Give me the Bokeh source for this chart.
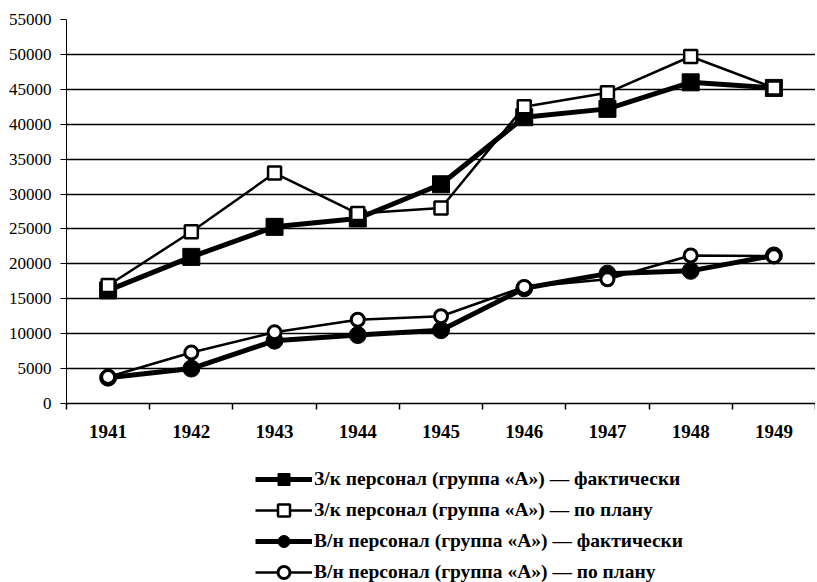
from bokeh.plotting import figure
from bokeh.models import FixedTicker, Legend, LegendItem, Range1d
from bokeh.layouts import column
from bokeh.embed import file_html
from bokeh.resources import INLINE

years = [1941, 1942, 1943, 1944, 1945, 1946, 1947, 1948, 1949]
zk_fact = [16200, 21000, 25300, 26500, 31400, 41000, 42200, 46000, 45200]
zk_plan = [16900, 24600, 33000, 27200, 28000, 42500, 44500, 49700, 45200]
vn_fact = [3700, 5000, 9000, 9800, 10500, 16500, 18600, 19000, 21200]
vn_plan = [3800, 7300, 10200, 12000, 12500, 16700, 17800, 21200, 21100]
y_ticks = list(range(0, 55001, 5000))
labels = [
    "З/к персонал (группа «А») — фактически",
    "З/к персонал (группа «А») — по плану",
    "В/н персонал (группа «А») — фактически",
    "В/н персонал (группа «А») — по плану",
]

FONT = "Liberation Serif"

# series styles: (values, marker, size, fill, line_width, marker_line_width)
series = [
    (zk_fact, "square", 17, "black", 5, 1),
    (zk_plan, "square", 13, "white", 2.5, 2.5),
    (vn_fact, "circle", 17, "black", 5, 1),
    (vn_plan, "circle", 13, "white", 2.5, 3),
]

p = figure(width=815, height=450, output_backend="svg", toolbar_location=None,
           x_range=Range1d(years[0] - 0.5, years[-1] + 0.5),
           y_range=Range1d(0, 55000),
           min_border_left=66, min_border_top=19, min_border_right=0,
           min_border_bottom=47)
p.outline_line_color = None
p.background_fill_color = "white"

p.xgrid.grid_line_color = None
p.ygrid.grid_line_color = "black"
p.ygrid.grid_line_width = 1.5
p.ygrid.ticker = FixedTicker(ticks=y_ticks)

p.yaxis.ticker = FixedTicker(ticks=y_ticks)
p.yaxis.axis_line_color = "black"
p.yaxis.axis_line_width = 1
p.yaxis.major_tick_out = 6
p.yaxis.major_tick_in = 0
p.yaxis.minor_tick_line_color = None
p.yaxis.major_label_text_font = FONT
p.yaxis.major_label_text_font_size = "17px"
p.yaxis.major_label_text_color = "black"
p.yaxis.major_label_standoff = 9

p.xaxis.ticker = FixedTicker(ticks=years,
                             minor_ticks=[y - 0.5 for y in years] + [years[-1] + 0.5])
p.xaxis.axis_line_color = "black"
p.xaxis.axis_line_width = 1.5
p.xaxis.major_tick_line_color = None
p.xaxis.minor_tick_line_color = "black"
p.xaxis.minor_tick_line_width = 1.5
p.xaxis.minor_tick_out = 6
p.xaxis.minor_tick_in = 0
p.xaxis.major_label_text_font = FONT
p.xaxis.major_label_text_font_size = "19px"
p.xaxis.major_label_text_font_style = "bold"
p.xaxis.major_label_text_color = "black"
p.xaxis.major_label_standoff = 15

# actual series first, plan on top
for idx in (0, 2, 1, 3):
    vals, mk, sz, fill, lw, mlw = series[idx]
    p.line(years, vals, line_color="black", line_width=lw)
    p.scatter(years, vals, marker=mk, size=sz, fill_color=fill,
              line_color="black", line_width=mlw)

# legend panel below the chart (its renderers lie outside its view; only the
# legend glyphs are seen)
lg = figure(width=815, height=132, output_backend="svg", toolbar_location=None,
            x_axis_location=None, y_axis_location=None,
            x_range=Range1d(0, 1), y_range=Range1d(0, 1),
            min_border=0, min_border_left=0, min_border_right=0,
            min_border_top=0, min_border_bottom=0)
lg.outline_line_color = None
lg.xgrid.grid_line_color = None
lg.ygrid.grid_line_color = None

items = []
for (vals, mk, sz, fill, lw, mlw), lab in zip(series, labels):
    lr = lg.line(years, vals, line_color="black", line_width=lw)
    mr = lg.scatter(years, vals, marker=mk, size=sz, fill_color=fill,
                    line_color="black", line_width=mlw)
    items.append(LegendItem(label=lab, renderers=[lr, mr]))

legend = Legend(items=items, orientation="vertical", location=(189, -5))
legend.border_line_color = None
legend.background_fill_alpha = 0
legend.label_text_font = FONT
legend.label_text_font_size = "19.5px"
legend.label_text_font_style = "bold"
legend.label_text_color = "black"
legend.glyph_width = 57
legend.glyph_height = 30
legend.label_height = 30
legend.spacing = 1
legend.label_standoff = 2
legend.padding = 0
legend.margin = 0
lg.add_layout(legend, "center")

layout = column(p, lg, spacing=0)
open("out.html", "w").write(file_html(layout, INLINE))
